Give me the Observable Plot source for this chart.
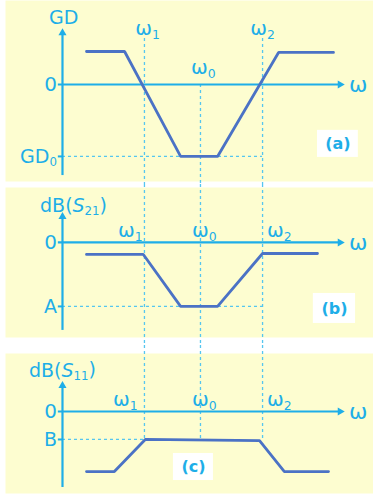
<!DOCTYPE html>
<html>
<head>
<meta charset="utf-8">
<script src="https://cdn.jsdelivr.net/npm/d3@7"></script>
<script src="https://cdn.jsdelivr.net/npm/@observablehq/plot@0.6"></script>
<style>
  html, body { margin: 0; padding: 0; background: #ffffff; }
  #chart { width: 373px; }
  #chart svg { display: block; }
</style>
</head>
<body>
<div id="chart"></div>
<script>
// ---- data ----
const omegaNames = ["ω₁", "ω₀", "ω₂"];
const omegaValues = [2.97, 5.0, 7.25];

const gdOmega = [0.87, 2.25, 4.28, 5.62, 7.83, 9.82];
const gdValues = [1.0, 1.0, -2.18, -2.18, 0.97, 0.97];
const gd0Level = -2.18;

const s21Omega = [0.87, 2.93, 4.28, 5.62, 7.25, 9.24];
const s21Values = [-1.0, -1.0, -5.33, -5.33, -0.92, -0.92];
const aLevel = -5.33;

const s11Omega = [0.87, 1.88, 3.0, 7.14, 8.04, 9.64];
const s11Values = [-5.0, -5.0, -2.33, -2.42, -5.0, -5.0];
const bLevel = -2.33;

const yTitles = ["GD", "dB(S₂₁)", "dB(S₁₁)"];
const levelNames = ["GD₀", "A", "B"];
const panelTags = ["(a)", "(b)", "(c)"];

// ---- styles ----
const BG = "#fdfdd0";
const CYAN = "#1eaee8";
const DASH = "#55c6ef";
const CURVE = "#4b72c5";
const FONT = "DejaVu Sans, sans-serif";
const X_DOMAIN = [-2.065, 11.27];

function zip(xs, ys) { return xs.map((x, i) => ({x, y: ys[i]})); }

function panel(o) {
  const curve = zip(o.cx, o.cy);
  const omegas = omegaValues.map((w, i) => ({w, name: omegaNames[i]}));
  return Plot.plot({
    width: 373,
    height: o.height,
    marginLeft: 5, marginRight: 0, marginTop: o.mt, marginBottom: o.mb,
    x: {domain: X_DOMAIN, axis: null},
    y: {domain: o.yDomain, axis: null},
    style: {fontFamily: FONT, background: "transparent", overflow: "visible"},
    marks: [
      Plot.frame({fill: BG, stroke: "none"}),
      Plot.rect([o.box], {x1: "x1", x2: "x2", y1: "y1", y2: "y2", fill: "white"}),
      Plot.ruleY([o.level], {x1: 0, x2: o.levelTo, stroke: DASH, strokeWidth: 1.3, strokeDasharray: "3,3"}),
      Plot.ruleX(omegas, {x: "w", y1: (d, i) => o.dashTop[i], y2: o.dashBottom, stroke: DASH, strokeWidth: 1.3, strokeDasharray: "3,3"}),
      Plot.ruleX([0], {y1: o.axisBottom, y2: o.axisTop, stroke: CYAN, strokeWidth: 2.2}),
      Plot.ruleY([0], {x1: -0.15, x2: 10.06, stroke: CYAN, strokeWidth: 2.2}),
      Plot.ruleY([o.level], {x1: -0.15, x2: 0, stroke: CYAN, strokeWidth: 2}),
      Plot.dot([{x: 0, y: o.axisTop}], {x: "x", y: "y", symbol: "triangle", r: 3, fill: CYAN, stroke: "none"}),
      Plot.dot([{x: 10.06, y: 0}], {x: "x", y: "y", symbol: "triangle", r: 3, fill: CYAN, stroke: "none", rotate: 90}),
      Plot.line(curve, {x: "x", y: "y", stroke: CURVE, strokeWidth: 2.8, strokeLinejoin: "miter"}),
      Plot.text([o.title], {x: o.titleX, y: o.titleY, text: d => d, fill: CYAN, fontSize: 19, textAnchor: "middle"}),
      Plot.text(["0"], {x: -0.2, y: 0, text: d => d, fill: CYAN, fontSize: 20, textAnchor: "end"}),
      Plot.text([o.levelName], {x: -0.2, y: o.level, text: d => d, fill: CYAN, fontSize: 19, textAnchor: "end"}),
      Plot.text(["ω"], {x: 10.72, y: 0, text: d => d, fill: CYAN, fontSize: 22, textAnchor: "middle"}),
      Plot.text(omegas, {x: (d, i) => o.labelX[i], y: (d, i) => o.labelY[i], text: "name", fill: CYAN, fontSize: 20, textAnchor: "middle"}),
      Plot.text([o.tag], {x: (o.box.x1 + o.box.x2) / 2, y: (o.box.y1 + o.box.y2) / 2, text: d => d, fill: CYAN, fontSize: 16, fontWeight: "bold", textAnchor: "middle"})
    ]
  });
}

// turn Unicode subscript digits into real subscript tspans (text stays text)
const SUB = {"₀": "0", "₁": "1", "₂": "2"};
function subscriptify(svg) {
  const NS = "http://www.w3.org/2000/svg";
  svg.querySelectorAll("text").forEach(t => {
    const s = t.textContent;
    if (![...s].some(c => SUB[c])) return;
    // split into runs
    const runs = [];
    for (const c of s) {
      const sub = !!SUB[c];
      const ch = sub ? SUB[c] : c;
      if (runs.length && runs[runs.length - 1].sub === sub) runs[runs.length - 1].t += ch;
      else runs.push({sub, t: ch});
    }
    while (t.firstChild) t.removeChild(t.firstChild);
    let lowered = false;
    runs.forEach(r => {
      const ts = document.createElementNS(NS, "tspan");
      ts.textContent = r.t;
      if (r.sub && !lowered) { ts.setAttribute("dy", "0.32em"); ts.setAttribute("font-size", "0.62em"); lowered = true; }
      else if (r.sub) { ts.setAttribute("font-size", "0.62em"); }
      else if (!r.sub && lowered) { ts.setAttribute("dy", "-0.2em"); lowered = false; }
      if (r.t === "S") ts.setAttribute("font-style", "italic");
      t.appendChild(ts);
    });
    // italic S inside "dB(S"
    if (s.includes("(S")) {
      const first = t.firstChild;
      const txt = first.textContent;
      const idx = txt.indexOf("S");
      if (idx >= 0) {
        first.textContent = txt.slice(0, idx);
        const it = document.createElementNS(NS, "tspan");
        it.textContent = "S";
        it.setAttribute("font-style", "italic");
        first.after(it);
      }
    }
  });
  return svg;
}

const chart = document.getElementById("chart");

chart.append(subscriptify(panel({
  height: 184, mt: 0, mb: 3, yDomain: [-2.94, 2.545],
  cx: gdOmega, cy: gdValues,
  level: gd0Level, levelTo: omegaValues[2], levelName: levelNames[0],
  title: yTitles[0], titleX: 0.04, titleY: 2.03,
  labelX: [3.08, 5.1, 7.25], labelY: [1.7, 0.52, 1.7],
  dashTop: [1.39, 0, 1.39], dashBottom: -3.03,
  axisTop: 1.56, axisBottom: -2.76,
  box: {x1: 9.24, x2: 10.72, y1: -1.39, y2: -2.21}, tag: panelTags[0]
})));

chart.append(subscriptify(panel({
  height: 161, mt: 3, mb: 8, yDomain: [-7.92, 4.58],
  cx: s21Omega, cy: s21Values,
  level: aLevel, levelTo: omegaValues[2], levelName: levelNames[1],
  title: yTitles[1], titleX: 0.4, titleY: 3.08,
  labelX: [2.46, 5.14, 7.86], labelY: [1.0, 1.0, 1.0],
  dashTop: [4.83, 4.83, 4.83], dashBottom: -8.58,
  axisTop: 2.15, axisBottom: -7.33,
  box: {x1: 9.09, x2: 10.62, y1: -4.25, y2: -6.75}, tag: panelTags[1]
})));

chart.append(subscriptify(panel({
  height: 150, mt: 8, mb: 2, yDomain: [-6.83, 4.83],
  cx: s11Omega, cy: s11Values,
  level: bLevel, levelTo: omegaValues[0], levelName: levelNames[2],
  title: yTitles[2], titleX: 0.0, titleY: 3.42,
  labelX: [2.28, 5.14, 7.86], labelY: [1.0, 1.0, 1.0],
  dashTop: [5.5, 5.5, 5.5], dashBottom: bLevel,
  axisTop: 2.15, axisBottom: -6.33,
  box: {x1: 4.02, x2: 5.47, y1: -3.5, y2: -5.75}, tag: panelTags[2]
})));
</script>
</body>
</html>
